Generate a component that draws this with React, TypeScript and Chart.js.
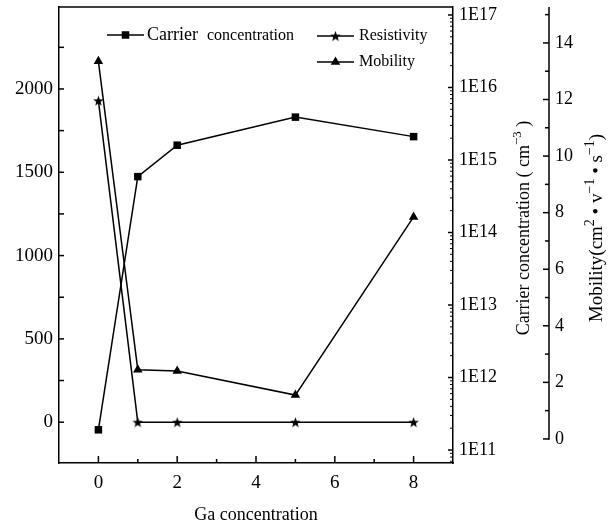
import React, { useEffect, useRef } from 'react';
import { Chart, registerables } from 'chart.js';

Chart.register(...registerables);

// ---- data ----
const gaConcentration = [0, 1, 2, 5, 8];
const carrierConcentration = [1.9e11, 5.9e14, 1.6e15, 3.9e15, 2.1e15];
const resistivity = [1930, 0, 0, 0, 0];
const mobility = [13.35, 2.45, 2.4, 1.55, 7.85];

// ---- ticks ----
const xMajorTicks = [0, 2, 4, 6, 8];
const xMinorTicks = [1, 3, 5, 7];
const leftMajorTicks = [0, 500, 1000, 1500, 2000];
const leftMinorTicks = [250, 750, 1250, 1750, 2250];
const logDecadeTicks = [1e11, 1e12, 1e13, 1e14, 1e15, 1e16, 1e17];
const logMinorMultipliers = [2, 3, 4, 5, 6, 7, 8, 9];
const mobilityMajorTicks = [0, 2, 4, 6, 8, 10, 12, 14];
const mobilityMinorTicks = [1, 3, 5, 7, 9, 11, 13, 15];

// ---- text ----
const seriesNames = ['Carrier concentration', 'Resistivity', 'Mobility'];
const xTitle = 'Ga concentration';
// rich title segments: [text, isSuperscript]
const carrierTitle: [string, boolean][] = [['Carrier concentration ( cm', false], ['\u22123', true], [' )', false]];
const mobilityTitle: [string, boolean][] = [
  ['Mobility(cm', false], ['2', true], [' \u2022 v', false], ['\u22121', true], [' \u2022 s', false], ['\u22121', true], [')', false],
];

const FONT = "'Liberation Serif', 'Times New Roman', serif";
const BLACK = '#000';

function makeStar(size: number): HTMLCanvasElement {
  const c = document.createElement('canvas');
  c.width = size;
  c.height = size;
  const g = c.getContext('2d')!;
  const cx = size / 2, cy = size / 2 + 0.5;
  const ro = size / 2, ri = ro * 0.42;
  g.beginPath();
  for (let i = 0; i < 10; i++) {
    const r = i % 2 === 0 ? ro : ri;
    const a = -Math.PI / 2 + (i * Math.PI) / 5;
    const px = cx + r * Math.cos(a), py = cy + r * Math.sin(a);
    if (i === 0) g.moveTo(px, py); else g.lineTo(px, py);
  }
  g.closePath();
  g.fillStyle = BLACK;
  g.fill();
  return c;
}

function drawRich(ctx: CanvasRenderingContext2D, segs: [string, boolean][], cx: number, cy: number, base: number, sup: number) {
  ctx.save();
  ctx.translate(cx, cy);
  ctx.rotate(-Math.PI / 2);
  ctx.textAlign = 'left';
  ctx.textBaseline = 'alphabetic';
  let total = 0;
  const widths = segs.map(([t, s]) => {
    ctx.font = `${s ? sup : base}px ${FONT}`;
    const w = ctx.measureText(t).width;
    total += w;
    return w;
  });
  let x = -total / 2;
  const baseY = base * 0.33;
  segs.forEach(([t, s], i) => {
    ctx.font = `${s ? sup : base}px ${FONT}`;
    ctx.fillText(t, x, s ? baseY - base * 0.42 : baseY);
    x += widths[i];
  });
  ctx.restore();
}

export default function App() {
  const ref = useRef<HTMLCanvasElement | null>(null);

  useEffect(() => {
    if (!ref.current) return;
    const star = makeStar(11);

    const logMin = Math.pow(10, 10.821);
    const logMax = Math.pow(10, 17.11);
    const logMinorTicks: number[] = [];
    for (let e = 10; e <= 16; e++) {
      logMinorMultipliers.forEach((m) => {
        const v = m * Math.pow(10, e);
        if (v > logMin && v < logMax) logMinorTicks.push(v);
      });
    }

    const decor = {
      id: 'decor',
      afterDraw(chart: any) {
        const ctx: CanvasRenderingContext2D = chart.ctx;
        const { left, right, top, bottom } = chart.chartArea;
        const sx = chart.scales.x, sy = chart.scales.y, sc = chart.scales.yc, sm = chart.scales.ym;
        const line = (x1: number, y1: number, x2: number, y2: number) => {
          ctx.beginPath();
          ctx.moveTo(x1, y1);
          ctx.lineTo(x2, y2);
          ctx.stroke();
        };
        ctx.save();
        ctx.strokeStyle = BLACK;
        ctx.fillStyle = BLACK;
        ctx.lineWidth = 1.5;
        // top frame
        line(left, top, right, top);
        // x ticks (inward)
        xMajorTicks.forEach((v) => { const p = sx.getPixelForValue(v); line(p, bottom, p, bottom - 7); });
        xMinorTicks.forEach((v) => { const p = sx.getPixelForValue(v); line(p, bottom, p, bottom - 4); });
        // left ticks
        leftMajorTicks.forEach((v) => { const p = sy.getPixelForValue(v); line(left, p, left + 5, p); });
        leftMinorTicks.forEach((v) => { const p = sy.getPixelForValue(v); line(left, p, left + 5, p); });
        // log ticks
        logDecadeTicks.forEach((v) => { const p = sc.getPixelForValue(v); line(right, p, right - 5, p); });
        ctx.lineWidth = 1;
        logMinorTicks.forEach((v) => { const p = sc.getPixelForValue(v); line(right, p, right - 3, p); });
        ctx.lineWidth = 1.5;
        // mobility axis line + ticks
        const mx = sm.left;
        line(mx, sm.getPixelForValue(0) + 0.75, mx, top);
        mobilityMajorTicks.forEach((v) => { const p = sm.getPixelForValue(v); line(mx, p, mx - 6, p); });
        mobilityMinorTicks.forEach((v) => { const p = sm.getPixelForValue(v); line(mx, p, mx - 4, p); });

        // right titles (rotated, reading bottom to top)
        const midY = (top + bottom) / 2 - 7;
        drawRich(ctx, carrierTitle, sc.right - 26, midY, 18, 13);
        drawRich(ctx, mobilityTitle, chart.width - 18, midY, 19, 14);

        // legend
        const drawEntry = (x: number, y: number, marker: string) => {
          line(x, y, x + 37, y);
          const cx = x + 18.5;
          if (marker === 'rect') {
            ctx.fillRect(cx - 3.75, y - 3.75, 7.5, 7.5);
          } else if (marker === 'star') {
            ctx.drawImage(star, cx - star.width / 2, y - star.height / 2);
          } else {
            const r = 5.5;
            ctx.beginPath();
            ctx.moveTo(cx, y - r);
            ctx.lineTo(cx + r * 0.866, y + r * 0.5);
            ctx.lineTo(cx - r * 0.866, y + r * 0.5);
            ctx.closePath();
            ctx.fill();
          }
        };
        ctx.textAlign = 'left';
        ctx.textBaseline = 'middle';
        const lx1 = left + 48, ly1 = top + 28;
        drawEntry(lx1, ly1, 'rect');
        const [w1, ...restWords] = seriesNames[0].split(' ');
        ctx.font = `18px ${FONT}`;
        ctx.fillText(w1, lx1 + 40, ly1);
        const w1w = ctx.measureText(w1).width;
        ctx.font = `16px ${FONT}`;
        ctx.fillText(restWords.join(' '), lx1 + 40 + w1w + 9, ly1 + 1);
        const lx2 = left + 258;
        drawEntry(lx2, ly1 + 1, 'star');
        ctx.fillText(seriesNames[1], lx2 + 42, ly1 + 1);
        drawEntry(lx2, ly1 + 27, 'triangle');
        ctx.fillText(seriesNames[2], lx2 + 42, ly1 + 27);
        ctx.restore();
      },
    };

    const pts = (ys: number[]) => gaConcentration.map((x, i) => ({ x, y: ys[i] }));
    const common = {
      borderColor: BLACK,
      backgroundColor: BLACK,
      borderWidth: 1.5,
      pointBorderWidth: 0,
      tension: 0,
      fill: false,
    };
    const noGrid = { display: false, drawTicks: false, tickLength: 0 };
    const zeroVPad = (s: any) => { s.paddingTop = 0; s.paddingBottom = 0; };

    const chart = new Chart(ref.current, {
      type: 'line',
      data: {
        datasets: [
          { ...common, label: seriesNames[0], data: pts(carrierConcentration), yAxisID: 'yc', pointStyle: 'rect', pointRadius: 5.3 },
          { ...common, label: seriesNames[1], data: pts(resistivity), yAxisID: 'y', pointStyle: star as any, pointRadius: 5 },
          { ...common, label: seriesNames[2], data: pts(mobility), yAxisID: 'ym', pointStyle: 'triangle', pointRadius: 5.5 },
        ],
      },
      options: {
        animation: false,
        responsive: false,
        events: [],
        layout: { padding: { top: 7, left: 0, right: 0, bottom: 0 } },
        plugins: { legend: { display: false }, tooltip: { enabled: false } },
        scales: {
          x: {
            type: 'linear',
            position: 'bottom',
            min: -1,
            max: 9,
            grid: noGrid,
            border: { display: true, color: BLACK, width: 1.5 },
            afterBuildTicks: (s: any) => { s.ticks = xMajorTicks.map((v) => ({ value: v })); },
            afterFit: (s: any) => { s.height = 63; s.paddingLeft = 0; s.paddingRight = 0; },
            ticks: { color: BLACK, font: { family: FONT, size: 19 }, padding: 9, maxRotation: 0 },
            title: { display: true, text: xTitle, color: BLACK, font: { family: FONT, size: 18 }, padding: { top: 0, bottom: 0 } },
          },
          y: {
            type: 'linear',
            position: 'left',
            min: -245,
            max: 2492,
            grid: noGrid,
            border: { display: true, color: BLACK, width: 1.5 },
            afterBuildTicks: (s: any) => { s.ticks = leftMajorTicks.map((v) => ({ value: v })); },
            afterFit: (s: any) => { s.width = 59; zeroVPad(s); },
            ticks: { color: BLACK, font: { family: FONT, size: 19 }, padding: 6, callback: (v: any) => String(v) },
          },
          yc: {
            type: 'logarithmic',
            position: 'right',
            min: logMin,
            max: logMax,
            grid: noGrid,
            border: { display: true, color: BLACK, width: 1.5 },
            afterBuildTicks: (s: any) => { s.ticks = logDecadeTicks.map((v) => ({ value: v })); },
            afterFit: (s: any) => { s.width = 96; zeroVPad(s); },
            ticks: {
              color: BLACK,
              font: { family: FONT, size: 18 },
              padding: 6,
              callback: (v: any) => '1E' + Math.round(Math.log10(Number(v))),
            },
          },
          ym: {
            type: 'linear',
            position: 'right',
            min: -0.85,
            max: 15.27,
            grid: noGrid,
            border: { display: false },
            afterBuildTicks: (s: any) => { s.ticks = mobilityMajorTicks.map((v) => ({ value: v })); },
            afterFit: (s: any) => { s.width = 65; zeroVPad(s); },
            ticks: { color: BLACK, font: { family: FONT, size: 18 }, padding: 6, callback: (v: any) => String(v) },
          },
        },
      },
      plugins: [decor],
    } as any);

    return () => chart.destroy();
  }, []);

  return (
    <div style={{ position: 'absolute', left: 0, top: 0, width: 614, height: 526, background: '#fff' }}>
      <canvas ref={ref} width={614} height={526} style={{ display: 'block' }} />
    </div>
  );
}
